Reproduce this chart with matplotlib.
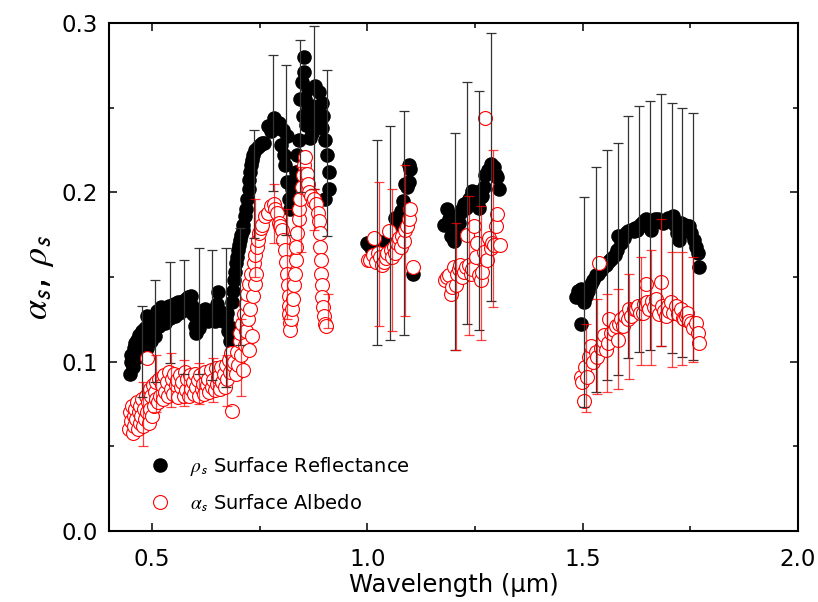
import matplotlib.pyplot as plt
import numpy as np

plt.rcParams['font.family'] = ['DejaVu Sans']
plt.rcParams['mathtext.fontset'] = 'stix'

# Surface reflectance (black, filled)
refl_x = [0.448, 0.450, 0.452, 0.455, 0.457, 0.460, 0.462, 0.465, 0.468, 0.470,
          0.473, 0.476, 0.478, 0.481, 0.484, 0.487, 0.489, 0.492, 0.495, 0.498,
          0.500, 0.503, 0.506, 0.509, 0.512, 0.515, 0.518, 0.521, 0.524, 0.527,
          0.530, 0.533, 0.536, 0.539, 0.542, 0.545, 0.548, 0.551, 0.554, 0.557,
          0.560, 0.563, 0.566, 0.569, 0.572, 0.575, 0.578, 0.581, 0.584, 0.587,
          0.590, 0.593, 0.596, 0.599, 0.602, 0.605, 0.608, 0.611, 0.614, 0.617,
          0.620, 0.623, 0.626, 0.629, 0.632, 0.635, 0.638, 0.641, 0.644, 0.647,
          0.650, 0.653, 0.656, 0.659, 0.662, 0.665, 0.668, 0.671, 0.674, 0.677,
          0.680, 0.683, 0.686,
          0.686, 0.688, 0.690, 0.692, 0.694, 0.697, 0.699, 0.701, 0.704, 0.707,
          0.710, 0.712, 0.715, 0.718, 0.721, 0.724, 0.726, 0.728, 0.730, 0.732,
          0.735, 0.740, 0.745, 0.751, 0.755, 0.759,
          0.770, 0.775, 0.782, 0.788, 0.794, 0.800, 0.805, 0.806, 0.809, 0.813,
          0.813, 0.817, 0.821, 0.825, 0.829, 0.833, 0.837, 0.840, 0.844, 0.848,
          0.850, 0.853, 0.853, 0.855, 0.858, 0.862, 0.863, 0.866, 0.868, 0.871,
          0.871, 0.875, 0.879, 0.882, 0.885, 0.887, 0.890, 0.894, 0.895, 0.898,
          0.902, 0.906, 0.910, 0.910, 0.902,
          1.000, 1.003, 1.010, 1.015, 1.020, 1.026, 1.032, 1.038, 1.044, 1.050,
          1.055, 1.061, 1.065, 1.069, 1.073, 1.077, 1.082, 1.088, 1.092, 1.096,
          1.096, 1.100, 1.107,
          1.177, 1.185, 1.189, 1.193, 1.201, 1.205, 1.209, 1.213, 1.216, 1.220,
          1.224, 1.230, 1.236, 1.240, 1.244, 1.250, 1.255, 1.259, 1.263, 1.267,
          1.270, 1.274, 1.280, 1.286, 1.290, 1.294, 1.298, 1.302, 1.305,
          1.484, 1.488, 1.492, 1.495, 1.495, 1.499, 1.503, 1.508, 1.513, 1.519,
          1.524, 1.530, 1.536, 1.542, 1.547, 1.553, 1.558, 1.564, 1.569, 1.575,
          1.580, 1.583, 1.588, 1.592, 1.596, 1.600, 1.606, 1.612, 1.618, 1.622,
          1.627, 1.632, 1.637, 1.642, 1.647, 1.652, 1.658, 1.663, 1.668, 1.674,
          1.680, 1.686, 1.693, 1.699, 1.704, 1.709, 1.714, 1.720, 1.724, 1.728,
          1.733, 1.738, 1.742, 1.747, 1.752, 1.758, 1.763, 1.767, 1.770]
refl_y = [0.093, 0.100, 0.104, 0.097, 0.108, 0.111, 0.102, 0.113, 0.106, 0.116,
          0.110, 0.118, 0.104, 0.113, 0.120, 0.127, 0.108, 0.118, 0.122, 0.112,
          0.120, 0.126, 0.115, 0.124, 0.130, 0.121, 0.128, 0.132, 0.125, 0.130,
          0.123, 0.131, 0.127, 0.133, 0.126, 0.131, 0.128, 0.134, 0.127, 0.132,
          0.135, 0.129, 0.134, 0.130, 0.136, 0.131, 0.137, 0.132, 0.138, 0.134,
          0.139, 0.133, 0.128, 0.121, 0.117, 0.124, 0.120, 0.128, 0.125, 0.130,
          0.126, 0.131, 0.127, 0.124, 0.129, 0.125, 0.130, 0.126, 0.128, 0.124,
          0.134, 0.141, 0.130, 0.125, 0.129, 0.124, 0.128, 0.125, 0.129, 0.118,
          0.112, 0.115, 0.120,
          0.135, 0.142, 0.148, 0.153, 0.158, 0.162, 0.166, 0.169, 0.172, 0.175,
          0.178, 0.181, 0.186, 0.190, 0.196, 0.202, 0.207, 0.212, 0.216, 0.219,
          0.222, 0.225, 0.227, 0.228, 0.229, 0.229,
          0.239, 0.236, 0.244, 0.238, 0.241, 0.228, 0.237, 0.222, 0.216, 0.233,
          0.206, 0.196, 0.190, 0.202, 0.207, 0.212, 0.222, 0.231, 0.255, 0.265,
          0.245, 0.271, 0.280, 0.255, 0.240, 0.250, 0.261, 0.232, 0.245, 0.251,
          0.235, 0.243, 0.263, 0.250, 0.240, 0.259, 0.245, 0.253, 0.238, 0.245,
          0.231, 0.222, 0.212, 0.202, 0.196,
          0.170, 0.169, 0.166, 0.168, 0.172, 0.170, 0.167, 0.169, 0.171, 0.172,
          0.176, 0.178, 0.185, 0.180, 0.183, 0.189, 0.195, 0.205, 0.203, 0.206,
          0.216, 0.214, 0.152,
          0.181, 0.190, 0.184, 0.174, 0.171, 0.178, 0.186, 0.182, 0.188, 0.190,
          0.193, 0.191, 0.196, 0.198, 0.201, 0.199, 0.200, 0.191, 0.197, 0.198,
          0.203, 0.210, 0.213, 0.217, 0.212, 0.215, 0.210, 0.209, 0.202,
          0.138, 0.142, 0.140, 0.143, 0.122, 0.137, 0.135, 0.139, 0.142, 0.146,
          0.148, 0.151, 0.152, 0.154, 0.156, 0.157, 0.159, 0.160, 0.161, 0.163,
          0.166, 0.174, 0.170, 0.172, 0.173, 0.176, 0.177, 0.178, 0.177, 0.179,
          0.178, 0.181, 0.182, 0.183, 0.184, 0.180, 0.178, 0.182, 0.184, 0.184,
          0.183, 0.182, 0.183, 0.185, 0.184, 0.186, 0.181, 0.176, 0.172, 0.182,
          0.179, 0.181, 0.180, 0.180, 0.176, 0.172, 0.168, 0.164, 0.156]

# Surface albedo (red, open)
alb_x = [0.447, 0.449, 0.451, 0.453, 0.455, 0.457, 0.459, 0.461, 0.463, 0.465,
         0.467, 0.469, 0.471, 0.473, 0.475, 0.477, 0.479, 0.481, 0.483, 0.485,
         0.487, 0.488, 0.490, 0.492, 0.494, 0.496, 0.498, 0.500, 0.502, 0.504,
         0.506, 0.508, 0.510, 0.513, 0.516, 0.519, 0.522, 0.525, 0.528, 0.531,
         0.534, 0.537, 0.540, 0.543, 0.546, 0.549, 0.552, 0.555, 0.558, 0.561,
         0.564, 0.567, 0.570, 0.573, 0.576, 0.579, 0.582, 0.585, 0.588, 0.591,
         0.594, 0.597, 0.600, 0.603, 0.606, 0.609, 0.612, 0.615, 0.618, 0.621,
         0.624, 0.627, 0.630, 0.633, 0.636, 0.639, 0.642, 0.645, 0.648, 0.651,
         0.654, 0.657, 0.660, 0.663, 0.666, 0.669, 0.672, 0.675, 0.678, 0.686,
         0.681, 0.684, 0.687,
         0.690, 0.694, 0.697, 0.700, 0.703, 0.705, 0.707, 0.709, 0.711, 0.713,
         0.715, 0.717, 0.719, 0.721, 0.723, 0.724, 0.726, 0.728, 0.730, 0.732,
         0.734, 0.736, 0.738, 0.740, 0.742, 0.744, 0.746, 0.749, 0.752, 0.755,
         0.762, 0.770, 0.776, 0.782, 0.786, 0.790, 0.794, 0.798, 0.802, 0.805,
         0.809, 0.811, 0.813, 0.815, 0.817, 0.818, 0.819, 0.820, 0.821, 0.823,
         0.825, 0.827, 0.829, 0.831, 0.833, 0.835, 0.837, 0.840, 0.842, 0.844,
         0.847, 0.850, 0.853, 0.855, 0.859, 0.862, 0.865, 0.869, 0.873, 0.877,
         0.881, 0.885, 0.887, 0.889, 0.891, 0.892, 0.893, 0.894, 0.895, 0.897,
         0.899, 0.901, 0.903,
         1.002, 1.007, 1.012, 1.015, 1.019, 1.024, 1.030, 1.034, 1.038, 1.042,
         1.046, 1.050, 1.054, 1.057, 1.061, 1.065, 1.069, 1.073, 1.077, 1.080,
         1.084, 1.088, 1.092, 1.096, 1.100, 1.107,
         1.181, 1.185, 1.189, 1.193, 1.197, 1.201, 1.205, 1.209, 1.213, 1.216,
         1.220, 1.224, 1.228, 1.232, 1.236, 1.240, 1.244, 1.247, 1.251, 1.255,
         1.259, 1.263, 1.267, 1.271, 1.274, 1.278, 1.282, 1.286, 1.290, 1.294,
         1.298, 1.302, 1.309,
         1.495, 1.499, 1.503, 1.506, 1.511, 1.515, 1.519, 1.524, 1.530, 1.534,
         1.538, 1.542, 1.546, 1.550, 1.554, 1.558, 1.561, 1.566, 1.572, 1.577,
         1.581, 1.585, 1.588, 1.594, 1.599, 1.604, 1.608, 1.613, 1.618, 1.623,
         1.628, 1.633, 1.639, 1.643, 1.647, 1.650, 1.655, 1.660, 1.665, 1.670,
         1.676, 1.681, 1.685, 1.689, 1.693, 1.697, 1.701, 1.705, 1.710, 1.716,
         1.722, 1.728, 1.732, 1.736, 1.740, 1.743, 1.747, 1.751, 1.757, 1.763,
         1.767, 1.770]
alb_y = [0.060, 0.070, 0.065, 0.074, 0.058, 0.068, 0.062, 0.072, 0.066, 0.076,
         0.060, 0.070, 0.064, 0.074, 0.068, 0.078, 0.062, 0.072, 0.066, 0.080,
         0.102, 0.070, 0.076, 0.064, 0.084, 0.072, 0.080, 0.068, 0.086, 0.074,
         0.082, 0.078, 0.088, 0.076, 0.090, 0.080, 0.086, 0.078, 0.092, 0.082,
         0.088, 0.080, 0.094, 0.084, 0.090, 0.081, 0.093, 0.086, 0.089, 0.079,
         0.092, 0.085, 0.088, 0.080, 0.094, 0.083, 0.090, 0.080, 0.092, 0.084,
         0.088, 0.081, 0.093, 0.085, 0.089, 0.080, 0.092, 0.084, 0.087, 0.081,
         0.094, 0.086, 0.090, 0.082, 0.095, 0.085, 0.089, 0.083, 0.096, 0.087,
         0.091, 0.084, 0.097, 0.088, 0.093, 0.085, 0.098, 0.090, 0.101, 0.071,
         0.094, 0.105, 0.098,
         0.100, 0.093, 0.106, 0.098, 0.112, 0.117, 0.104, 0.122, 0.095, 0.128,
         0.110, 0.134, 0.118, 0.140, 0.125, 0.107, 0.146, 0.131, 0.152, 0.115,
         0.139, 0.158, 0.146, 0.163, 0.152, 0.168, 0.172, 0.176, 0.179, 0.181,
         0.186, 0.188, 0.192, 0.193, 0.190, 0.188, 0.182, 0.180, 0.178, 0.172,
         0.166, 0.159, 0.152, 0.145, 0.139, 0.133, 0.128, 0.123, 0.119, 0.125,
         0.131, 0.137, 0.145, 0.152, 0.160, 0.168, 0.176, 0.184, 0.190, 0.196,
         0.203, 0.210, 0.216, 0.221, 0.211, 0.205, 0.200, 0.198, 0.195, 0.196,
         0.193, 0.188, 0.183, 0.176, 0.168, 0.160, 0.152, 0.145, 0.138, 0.132,
         0.127, 0.122, 0.121,
         0.160, 0.160, 0.163, 0.173, 0.159, 0.164, 0.162, 0.157, 0.159, 0.161,
         0.164, 0.177, 0.166, 0.162, 0.168, 0.164, 0.170, 0.173, 0.168, 0.174,
         0.171, 0.178, 0.180, 0.184, 0.190, 0.156,
         0.148, 0.150, 0.151, 0.140, 0.144, 0.156, 0.145, 0.152, 0.155, 0.157,
         0.150, 0.153, 0.156, 0.175, 0.157, 0.152, 0.155, 0.180, 0.162, 0.170,
         0.151, 0.148, 0.153, 0.165, 0.244, 0.160, 0.173, 0.167, 0.170, 0.169,
         0.180, 0.187, 0.169,
         0.091, 0.088, 0.077, 0.097, 0.091, 0.103, 0.109, 0.100, 0.106, 0.103,
         0.158, 0.108, 0.112, 0.116, 0.107, 0.111, 0.125, 0.117, 0.119, 0.121,
         0.113, 0.122, 0.125, 0.121, 0.127, 0.125, 0.131, 0.127, 0.131, 0.131,
         0.133, 0.129, 0.129, 0.134, 0.146, 0.135, 0.131, 0.136, 0.132, 0.137,
         0.128, 0.147, 0.133, 0.130, 0.127, 0.133, 0.130, 0.135, 0.129, 0.133,
         0.128, 0.131, 0.126, 0.125, 0.127, 0.129, 0.124, 0.123, 0.120, 0.123,
         0.117, 0.111]

# error bars: position, lower end, upper end
refl_err_x = [0.476, 0.507, 0.542, 0.573, 0.608, 0.639, 0.672, 0.705, 0.737, 0.780,
              0.811, 0.843, 0.875, 0.906, 1.023, 1.053, 1.084, 1.203, 1.232, 1.259,
              1.288, 1.503, 1.530, 1.556, 1.581, 1.606, 1.630, 1.656, 1.681, 1.707,
              1.730, 1.755]
refl_err_lo = [0.079, 0.088, 0.099, 0.093, 0.093, 0.089, 0.085, 0.110, 0.173, 0.201,
               0.175, 0.200, 0.202, 0.174, 0.110, 0.113, 0.116, 0.107, 0.122, 0.119,
               0.136, 0.073, 0.082, 0.089, 0.092, 0.102, 0.106, 0.107, 0.109, 0.105,
               0.103, 0.101]
refl_err_hi = [0.133, 0.148, 0.159, 0.160, 0.167, 0.166, 0.167, 0.179, 0.237, 0.281,
               0.275, 0.290, 0.298, 0.272, 0.231, 0.239, 0.248, 0.235, 0.265, 0.260,
               0.294, 0.197, 0.215, 0.225, 0.229, 0.245, 0.251, 0.254, 0.258, 0.253,
               0.250, 0.247]

alb_err_x = [0.478, 0.509, 0.544, 0.575, 0.610, 0.641, 0.674, 0.707, 0.739, 0.782,
             0.813, 0.845, 0.877, 0.908, 1.026, 1.056, 1.088, 1.206, 1.235, 1.263,
             1.292, 1.507, 1.532, 1.557, 1.583, 1.608, 1.635, 1.658, 1.681, 1.707,
             1.730, 1.756]
alb_err_lo = [0.050, 0.070, 0.073, 0.074, 0.075, 0.076, 0.074, 0.080, 0.150, 0.170,
              0.125, 0.165, 0.178, 0.120, 0.121, 0.118, 0.127, 0.107, 0.116, 0.113,
              0.132, 0.070, 0.081, 0.082, 0.084, 0.090, 0.098, 0.098, 0.109, 0.097,
              0.098, 0.100]
alb_err_hi = [0.088, 0.104, 0.105, 0.101, 0.099, 0.102, 0.104, 0.125, 0.196, 0.205,
              0.190, 0.215, 0.202, 0.140, 0.206, 0.202, 0.216, 0.182, 0.198, 0.192,
              0.225, 0.122, 0.137, 0.140, 0.143, 0.152, 0.162, 0.166, 0.184, 0.165,
              0.165, 0.162]

fig = plt.figure(figsize=(8.18, 6.02), dpi=100)
ax = fig.add_axes([0.1333, 0.1179, 0.8423, 0.8439])

ax.plot(refl_x, refl_y, 'o', color='black', ms=10.5, mew=0, zorder=2,
        label=r'$\rho_{\mathsf{s}}$ Surface Reflectance')
ax.plot(alb_x, alb_y, 'o', mfc='white', mec='red', ms=10, mew=0.8, zorder=3,
        label=r'$\alpha_{\mathsf{s}}$ Surface Albedo')

rmid = (np.array(refl_err_lo) + np.array(refl_err_hi)) / 2
ax.errorbar(refl_err_x, rmid, yerr=[rmid - np.array(refl_err_lo), np.array(refl_err_hi) - rmid],
            fmt='none', ecolor='#333333', elinewidth=0.9, capsize=3.5, capthick=0.9, zorder=4)
amid = (np.array(alb_err_lo) + np.array(alb_err_hi)) / 2
ax.errorbar(alb_err_x, amid, yerr=[amid - np.array(alb_err_lo), np.array(alb_err_hi) - amid],
            fmt='none', ecolor='red', alpha=0.75, elinewidth=0.9, capsize=3.5, capthick=0.9, zorder=4)

ax.set_xlim(0.4, 2.0)
ax.set_ylim(0.0, 0.3)
ax.set_xticks([0.5, 1.0, 1.5, 2.0])
ax.set_xticks([0.75, 1.25, 1.75], minor=True)
ax.set_yticks([0.0, 0.1, 0.2, 0.3])
ax.set_yticks([0.05, 0.15, 0.25], minor=True)
ax.xaxis.set_major_formatter(plt.FormatStrFormatter('%.1f'))
ax.yaxis.set_major_formatter(plt.FormatStrFormatter('%.1f'))
ax.tick_params(which='both', direction='in', top=True, right=True, width=1.1)
ax.tick_params(which='major', length=6)
ax.tick_params(which='minor', length=3.5)
ax.tick_params(axis='x', which='major', labelsize=16.5, pad=12)
ax.tick_params(axis='y', which='major', labelsize=16.5, pad=8)
for s in ax.spines.values():
    s.set_linewidth(1.5)

ax.set_xlabel('Wavelength (μm)', fontsize=17.5, labelpad=2)
ax.set_ylabel(r'$\alpha_{\mathsf{s}}$, $\rho_{\mathsf{s}}$', fontsize=26, labelpad=4)

ax.legend(loc='lower left', bbox_to_anchor=(0.035, 0.0), frameon=False, fontsize=14,
          handlelength=1.0, handletextpad=1.0, labelspacing=0.7, numpoints=1)

plt.savefig('out.png', dpi=100)
